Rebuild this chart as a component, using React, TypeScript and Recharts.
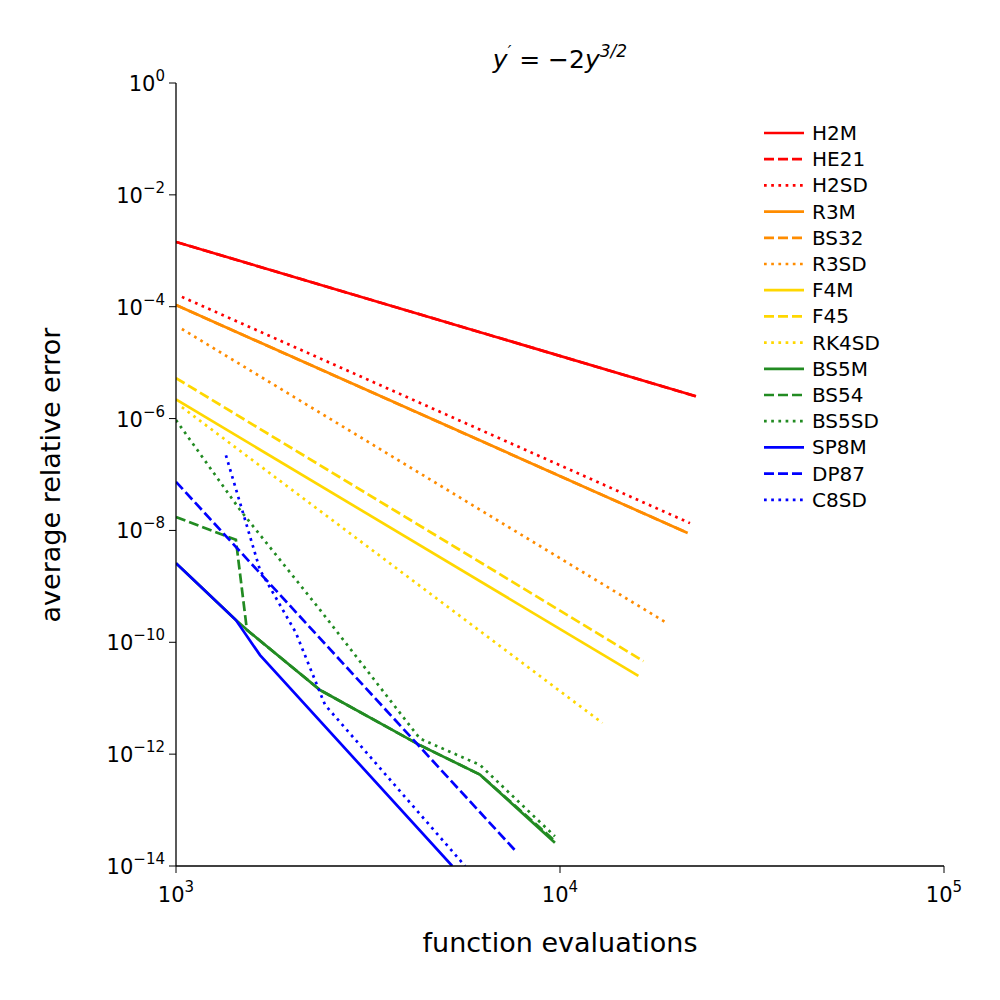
import React from 'react'
import { LineChart, Line, XAxis, YAxis } from 'recharts'

// log-log error vs cost
const xTicks = [1e3, 1e4, 1e5]
const yTicks = [1, 1e-2, 1e-4, 1e-6, 1e-8, 1e-10, 1e-12, 1e-14]

const h2m = [{ x: 1000, y: 1.44e-3 }, { x: 22600, y: 2.5e-6 }]
const he21 = [{ x: 1000, y: 1.44e-3 }, { x: 22600, y: 2.5e-6 }]
const h2sd = [{ x: 1036, y: 1.5e-4 }, { x: 21800, y: 1.35e-8 }]
const r3m = [{ x: 1000, y: 1.07e-4 }, { x: 21500, y: 9e-9 }]
const bs32 = [{ x: 1000, y: 1.07e-4 }, { x: 21500, y: 9e-9 }]
const r3sd = [{ x: 1036, y: 4e-5 }, { x: 19000, y: 2.2e-10 }]
const f4m = [{ x: 1000, y: 2.2e-6 }, { x: 16000, y: 2.5e-11 }]
const f45 = [{ x: 1000, y: 5.3e-6 }, { x: 16500, y: 4.6e-11 }]
const rk4sd = [{ x: 1036, y: 1.6e-6 }, { x: 12900, y: 3.6e-12 }]
const bs5m = [
  { x: 1000, y: 2.6e-9 }, { x: 1100, y: 1.4e-9 }, { x: 1432, y: 2.5e-10 }, { x: 1559, y: 1.5e-10 },
  { x: 2372, y: 1.4e-11 }, { x: 4315, y: 1.45e-12 }, { x: 6190, y: 4.3e-13 }, { x: 9700, y: 2.6e-14 },
]
const bs54 = [
  { x: 1000, y: 1.74e-8 }, { x: 1432, y: 6.8e-9 }, { x: 1530, y: 1.66e-10 },
  { x: 2372, y: 1.4e-11 }, { x: 4315, y: 1.45e-12 }, { x: 6190, y: 4.3e-13 }, { x: 9700, y: 2.8e-14 },
]
const bs5sd = [
  { x: 1000, y: 9.4e-7 }, { x: 1470, y: 2.3e-8 }, { x: 2372, y: 3.8e-10 },
  { x: 4315, y: 1.9e-12 }, { x: 6190, y: 6.4e-13 }, { x: 9700, y: 3.4e-14 },
]
const sp8m = [
  { x: 1000, y: 2.6e-9 }, { x: 1100, y: 1.4e-9 }, { x: 1432, y: 2.5e-10 }, { x: 1655, y: 5.9e-11 }, { x: 5240, y: 1e-14 },
]
const dp87 = [{ x: 1000, y: 7.4e-8 }, { x: 7640, y: 1.9e-14 }]
const c8sd = [
  { x: 1349, y: 2.2e-7 }, { x: 1655, y: 1.95e-9 }, { x: 2050, y: 1.5e-10 }, { x: 2444, y: 7.6e-12 }, { x: 5660, y: 1e-14 },
]

const SOLID = undefined
const DASH = '10 4'
const DOT = '2.7 4.5'
const RED = '#ff0000'
const ORANGE = '#ff8c00'
const GOLD = '#ffd700'
const GREEN = '#228b22'
const BLUE = '#0000ff'

const series = [
  { name: 'H2M', data: h2m, color: RED, dash: SOLID },
  { name: 'HE21', data: he21, color: RED, dash: DASH },
  { name: 'H2SD', data: h2sd, color: RED, dash: DOT },
  { name: 'R3M', data: r3m, color: ORANGE, dash: SOLID },
  { name: 'BS32', data: bs32, color: ORANGE, dash: DASH },
  { name: 'R3SD', data: r3sd, color: ORANGE, dash: DOT },
  { name: 'F4M', data: f4m, color: GOLD, dash: SOLID },
  { name: 'F45', data: f45, color: GOLD, dash: DASH },
  { name: 'RK4SD', data: rk4sd, color: GOLD, dash: DOT },
  { name: 'BS5M', data: bs5m, color: GREEN, dash: SOLID },
  { name: 'BS54', data: bs54, color: GREEN, dash: DASH },
  { name: 'BS5SD', data: bs5sd, color: GREEN, dash: DOT },
  { name: 'SP8M', data: sp8m, color: BLUE, dash: SOLID },
  { name: 'DP87', data: dp87, color: BLUE, dash: DASH },
  { name: 'C8SD', data: c8sd, color: BLUE, dash: DOT },
]

const FONT = 'DejaVu Sans, sans-serif'

function PowerTick({ x, y, payload, axis }: any) {
  const exp = Math.round(Math.log10(payload.value))
  if (axis === 'x') {
    return (
      <text x={x} y={y + 27} textAnchor="middle" fontFamily={FONT} fontSize={21} fill="#000">
        10<tspan dy={-10} fontSize={15}>{exp}</tspan>
      </text>
    )
  }
  return (
    <text x={x - 2} y={y + 8} textAnchor="end" fontFamily={FONT} fontSize={21} fill="#000">
      10<tspan dy={-10} fontSize={15}>{exp === 0 ? '0' : '\u2212' + Math.abs(exp)}</tspan>
    </text>
  )
}

function LegendBox() {
  return (
    <svg width={180} height={400} style={{ position: 'absolute', left: 760, top: 123 }}>
      {series.map((s, i) => (
        <g key={s.name} transform={`translate(0, ${i * 26.2 + 10})`}>
          <line x1={4} x2={44} y1={0} y2={0} stroke={s.color} strokeWidth={2.7} strokeDasharray={s.dash} />
          <text x={52} y={7} fontFamily={FONT} fontSize={20} fill="#000">{s.name}</text>
        </g>
      ))}
    </svg>
  )
}

export default function App() {
  return (
    <div style={{ position: 'absolute', left: 0, top: 0, width: 1000, height: 1000, background: '#fff' }}>
      <LineChart width={1000} height={1000} margin={{ top: 83, right: 56, bottom: 74, left: 76 }}>
        <XAxis
          xAxisId="b" dataKey="x" type="number" scale="log" domain={[1e3, 1e5]} ticks={xTicks}
          allowDataOverflow tick={<PowerTick axis="x" />} tickSize={7} height={60}
          axisLine={{ stroke: '#000', strokeWidth: 1.3 }} tickLine={{ stroke: '#000' }}
        />
        <XAxis
          xAxisId="t" orientation="top" dataKey="x" type="number" scale="log" domain={[1e3, 1e5]}
          ticks={xTicks} tick={false} tickLine={false} height={0} axisLine={{ stroke: '#000', strokeWidth: 1.3 }}
        />
        <YAxis
          yAxisId="l" type="number" scale="log" domain={[1e-14, 1]} ticks={yTicks} allowDataOverflow
          tick={<PowerTick axis="y" />} tickSize={7} width={100}
          axisLine={{ stroke: '#000', strokeWidth: 1.3 }} tickLine={{ stroke: '#000' }}
        />
        <YAxis
          yAxisId="r" orientation="right" type="number" scale="log" domain={[1e-14, 1]} ticks={yTicks}
          tick={false} tickLine={false} width={0} axisLine={{ stroke: '#000', strokeWidth: 1.3 }}
        />
        {series.map((s) => (
          <Line
            key={s.name} xAxisId="b" yAxisId="l" data={s.data} dataKey="y" name={s.name}
            stroke={s.color} strokeWidth={2.7} strokeDasharray={s.dash} dot={false}
            isAnimationActive={false}
          />
        ))}
        <text x={560} y={68} textAnchor="middle" fontFamily={FONT} fontSize={25} fontStyle="italic">
          y<tspan fontSize={16} dy={-11}>′</tspan>
          <tspan dy={11} fontStyle="normal"> = −2</tspan>y<tspan fontSize={17} dy={-11}>3/2</tspan>
        </text>
        <text x={560} y={952} textAnchor="middle" fontFamily={FONT} fontSize={27}>function evaluations</text>
        <text x={60} y={475} textAnchor="middle" fontFamily={FONT} fontSize={27} transform="rotate(-90 60 475)">
          average relative error
        </text>
      </LineChart>
      <LegendBox />
    </div>
  )
}
